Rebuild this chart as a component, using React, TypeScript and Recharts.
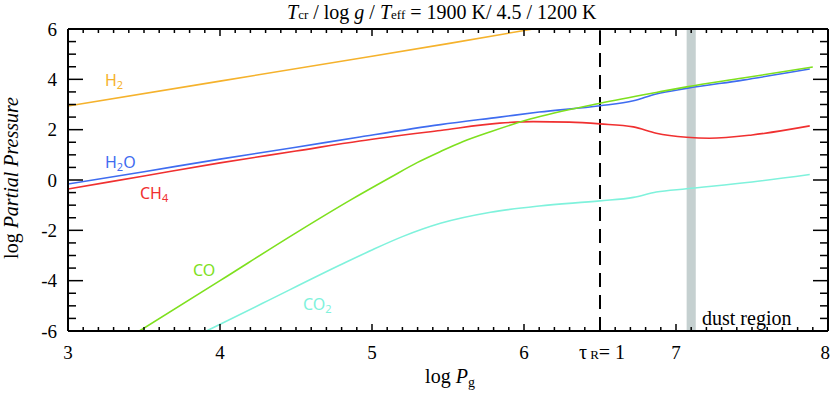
import React from 'react';
import { ComposedChart, Line, XAxis, YAxis, ReferenceLine, ReferenceArea } from 'recharts';

// ---- data (log Pg vs log partial pressure) ----
const h2X = [3.0, 4.0, 5.0, 5.5, 6.06];
const h2Y = [2.94, 3.93, 4.92, 5.42, 6.0];

const h2oX = [3.0, 3.5, 4.0, 4.5, 4.92, 5.45, 5.84, 6.1, 6.5, 6.72, 6.87, 7.07, 7.44, 7.88];
const h2oY = [-0.16, 0.33, 0.83, 1.3, 1.71, 2.2, 2.5, 2.7, 2.95, 3.15, 3.42, 3.64, 3.97, 4.41];

const ch4X = [3.0, 3.5, 4.0, 4.5, 4.92, 5.45, 5.84, 6.06, 6.3, 6.5, 6.72, 6.87, 7.07, 7.22, 7.5, 7.88];
const ch4Y = [-0.36, 0.16, 0.68, 1.15, 1.55, 1.97, 2.26, 2.32, 2.3, 2.23, 2.11, 1.86, 1.7, 1.66, 1.79, 2.15];

const coX = [3.47, 4.0, 4.5, 4.86, 5.12, 5.3, 5.45, 5.6, 5.78, 6.04, 6.5, 6.87, 7.07, 7.44, 7.9];
const coY = [-6.0, -4.0, -2.1, -0.79, 0.1, 0.7, 1.13, 1.53, 1.92, 2.42, 3.05, 3.48, 3.7, 4.05, 4.49];

const co2X = [3.91, 4.28, 4.79, 5.0, 5.2, 5.45, 5.78, 6.1, 6.5, 6.72, 6.87, 7.07, 7.5, 7.88];
const co2Y = [-6.0, -4.9, -3.38, -2.78, -2.25, -1.72, -1.28, -1.03, -0.83, -0.69, -0.48, -0.35, -0.08, 0.22];

const xMajorTicks = [3, 4, 5, 6, 7, 8];
const yMajorTicks = [-6, -4, -2, 0, 2, 4, 6];
const tauX = 6.5;
const dustBand = [7.07, 7.13];

const xAllTicks: number[] = [];
for (let i = 30; i <= 80; i++) xAllTicks.push(i / 10);
const yAllTicks: number[] = [];
for (let i = -12; i <= 12; i++) yAllTicks.push(i / 2);

const zip = (xs: number[], ys: number[]) => xs.map((x, i) => ({ x, y: ys[i] }));
const h2Data = zip(h2X, h2Y);
const h2oData = zip(h2oX, h2oY);
const ch4Data = zip(ch4X, ch4Y);
const coData = zip(coX, coY);
const co2Data = zip(co2X, co2Y);

const isMajor = (v: number, majors: number[]) => majors.some((m) => Math.abs(m - v) < 1e-6);

const SERIF = '"Liberation Serif", "Times New Roman", serif';
const SANS = '"Noto Sans", "Open Sans", sans-serif';

const BottomTick = (props: any) => {
  const { x, y, payload } = props;
  const v = payload.value;
  const major = isMajor(v, xMajorTicks);
  const len = major ? 7 : 4;
  const last = Math.abs(v - 8) < 1e-6;
  return (
    <g>
      <line x1={x} y1={y} x2={x} y2={y - len} stroke="#000" strokeWidth={1.5} />
      {major && (
        <text x={last ? x + 2 : x} y={y + 28} textAnchor={last ? 'end' : 'middle'} fontFamily={SERIF} fontSize={19} fill="#000">
          {v}
        </text>
      )}
      {Math.abs(v - tauX) < 1e-6 && (
        <text x={x + 2} y={y + 28} textAnchor="middle" fontFamily={SERIF} fontSize={20} fill="#000">
          τ<tspan fontSize={13}>{' R'}</tspan>{'= 1'}
        </text>
      )}
    </g>
  );
};

const TopTick = (props: any) => {
  const { x, y, payload } = props;
  const major = isMajor(payload.value, xMajorTicks);
  const len = major ? 7 : 4;
  return <line x1={x} y1={y} x2={x} y2={y + len} stroke="#000" strokeWidth={1.5} />;
};

const LeftTick = (props: any) => {
  const { x, y, payload } = props;
  const v = payload.value;
  const major = isMajor(v, yMajorTicks);
  const len = major ? 15 : 8;
  return (
    <g>
      <line x1={x} y1={y} x2={x + len} y2={y} stroke="#000" strokeWidth={1.5} />
      {major && (
        <text x={x - 11} y={y + 6.5} textAnchor="end" fontFamily={SERIF} fontSize={19} fill="#000">
          {v}
        </text>
      )}
    </g>
  );
};

const RightTick = (props: any) => {
  const { x, y, payload } = props;
  const major = isMajor(payload.value, yMajorTicks);
  const len = major ? 15 : 8;
  return <line x1={x} y1={y} x2={x - len} y2={y} stroke="#000" strokeWidth={1.5} />;
};

const axisLineStyle = { stroke: '#000', strokeWidth: 2 };

export default function App() {
  return (
    <div style={{ position: 'absolute', left: 0, top: 0, width: 831, height: 395, background: '#fff' }}>
      <ComposedChart width={831} height={395} margin={{ top: 0, right: 0, bottom: 0, left: 0 }}>
        <XAxis
          xAxisId={0}
          type="number"
          dataKey="x"
          domain={[3, 8]}
          allowDataOverflow
          ticks={xAllTicks}
          interval={0}
          height={64}
          tickSize={0}
          tickMargin={0}
          tickLine={false}
          axisLine={axisLineStyle}
          tick={BottomTick}
        />
        <XAxis
          xAxisId="top"
          orientation="top"
          type="number"
          dataKey="x"
          domain={[3, 8]}
          allowDataOverflow
          ticks={xAllTicks}
          interval={0}
          height={29}
          tickSize={0}
          tickMargin={0}
          tickLine={false}
          axisLine={axisLineStyle}
          tick={TopTick}
        />
        <YAxis
          yAxisId={0}
          type="number"
          domain={[-6, 6]}
          allowDataOverflow
          ticks={yAllTicks}
          interval={0}
          width={68}
          tickSize={0}
          tickMargin={0}
          tickLine={false}
          axisLine={axisLineStyle}
          tick={LeftTick}
        />
        <YAxis
          yAxisId="right"
          orientation="right"
          type="number"
          domain={[-6, 6]}
          allowDataOverflow
          ticks={yAllTicks}
          interval={0}
          width={3}
          tickSize={0}
          tickMargin={0}
          tickLine={false}
          axisLine={axisLineStyle}
          tick={RightTick}
        />
        <ReferenceArea x1={dustBand[0]} x2={dustBand[1]} fill="#c5d0d0" fillOpacity={1} stroke="none" />
        <ReferenceLine x={tauX} stroke="#000" strokeWidth={2} strokeDasharray="14 8" />
        <Line data={h2Data} dataKey="y" type="linear" stroke="#f5b22c" strokeWidth={1.6} dot={false} isAnimationActive={false} />
        <Line data={co2Data} dataKey="y" type="monotone" stroke="#7ff2dc" strokeWidth={1.6} dot={false} isAnimationActive={false} />
        <Line data={ch4Data} dataKey="y" type="monotone" stroke="#f03030" strokeWidth={1.6} dot={false} isAnimationActive={false} />
        <Line data={h2oData} dataKey="y" type="monotone" stroke="#3f6cf0" strokeWidth={1.6} dot={false} isAnimationActive={false} />
        <Line data={coData} dataKey="y" type="monotone" stroke="#7ee01e" strokeWidth={1.6} dot={false} isAnimationActive={false} />
      </ComposedChart>
      <svg width={831} height={395} style={{ position: 'absolute', left: 0, top: 0, pointerEvents: 'none' }}>
        <text x={287} y={19} fontFamily={SERIF} fontSize={20} fill="#000">
          <tspan fontStyle="italic">T</tspan>
          <tspan fontSize={13}>cr</tspan>
          <tspan>{' / log '}</tspan>
          <tspan fontStyle="italic">g</tspan>
          <tspan>{' / '}</tspan>
          <tspan fontStyle="italic">T</tspan>
          <tspan fontSize={13}>eff</tspan>
          <tspan>{' = 1900 K/ 4.5 / 1200 K'}</tspan>
        </text>
        <text transform="rotate(-90)" x={-178} y={18} textAnchor="middle" fontFamily={SERIF} fontSize={20} fill="#000">
          <tspan>{'log '}</tspan>
          <tspan fontStyle="italic">Partial Pressure</tspan>
        </text>
        <text x={450} y={383} textAnchor="middle" fontFamily={SERIF} fontSize={20} fill="#000">
          <tspan>{'log '}</tspan>
          <tspan fontStyle="italic">P</tspan>
          <tspan fontSize={14} dy={4}>g</tspan>
        </text>
        <text x={702} y={325} fontFamily={SERIF} fontSize={20} fill="#000">dust region</text>
        <text x={105} y={86} fontFamily={SANS} fontSize={16} fill="#f5b22c">
          H<tspan fontSize={11} dy={3}>2</tspan>
        </text>
        <text x={105} y={168} fontFamily={SANS} fontSize={16} fill="#3f6cf0">
          H<tspan fontSize={11} dy={3}>2</tspan><tspan dy={-3}>O</tspan>
        </text>
        <text x={140} y={199} fontFamily={SANS} fontSize={16} fill="#f03030">
          CH<tspan fontSize={11} dy={3}>4</tspan>
        </text>
        <text x={193} y={276} fontFamily={SANS} fontSize={16} fill="#7ee01e">CO</text>
        <text x={303} y={310} fontFamily={SANS} fontSize={16} fill="#7ff2dc">
          CO<tspan fontSize={11} dy={3}>2</tspan>
        </text>
      </svg>
    </div>
  );
}
